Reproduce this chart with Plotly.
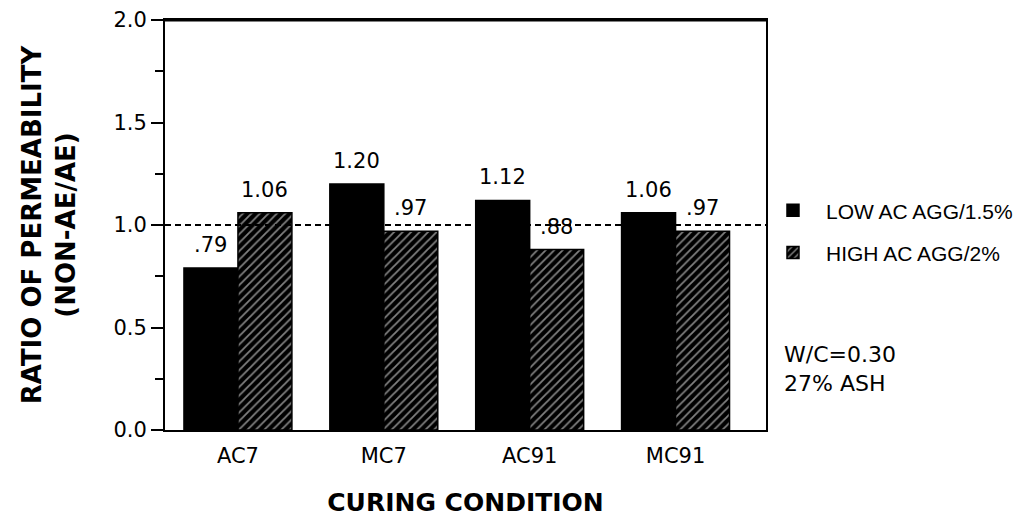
import plotly.graph_objects as go

categories = ["AC7", "MC7", "AC91", "MC91"]
low_ac = [0.79, 1.20, 1.12, 1.06]
high_ac = [1.06, 0.97, 0.88, 0.97]
low_labels = [".79", "1.20", "1.12", "1.06"]
high_labels = ["1.06", ".97", ".88", ".97"]
series_names = ["LOW AC AGG/1.5%", "HIGH AC AGG/2%"]
y_ticks = [0.0, 0.5, 1.0, 1.5, 2.0]
reference_level = 1.0

FONT = "DejaVu Sans"
BARGAP = 0.26
half = (1 - BARGAP) / 4

fig = go.Figure()
fig.add_trace(go.Bar(
    x=categories, y=low_ac, name=series_names[0], legendgroup="a",
    marker=dict(color="black", line=dict(color="black", width=1.5)),
))
fig.add_trace(go.Bar(
    x=categories, y=high_ac, name=series_names[1], legendgroup="b",
    marker=dict(color="black", line=dict(color="black", width=1.5),
                pattern=dict(shape="/", bgcolor="black", fgcolor="white",
                             size=6, solidity=0.3)),
))

annotations = []
for i, (v, t) in enumerate(zip(low_ac, low_labels)):
    annotations.append(dict(x=i - half, y=v, text=t, showarrow=False, xref="x", yref="y",
                            yanchor="bottom", yshift=9, font=dict(family=FONT, size=21, color="black")))
for i, (v, t) in enumerate(zip(high_ac, high_labels)):
    annotations.append(dict(x=i + half, y=v, text=t, showarrow=False, xref="x", yref="y",
                            yanchor="bottom", yshift=9, font=dict(family=FONT, size=21, color="black")))
annotations.append(dict(x=1.027, y=0.15, xref="paper", yref="paper", xanchor="left", yanchor="middle",
                        showarrow=False, align="left", text="W/C=0.30<br>27% ASH",
                        font=dict(family=FONT, size=22, color="black")))

fig.update_layout(
    width=1020, height=525,
    margin=dict(l=165, r=254, t=20, b=95, autoexpand=False),
    paper_bgcolor="white", plot_bgcolor="white",
    barmode="group", bargap=BARGAP, bargroupgap=0,
    font=dict(family=FONT, color="black"),
    showlegend=True,
    legend=dict(x=0.99, y=0.585, xanchor="left", yanchor="top", itemwidth=56,
                font=dict(family="Liberation Sans", size=21, color="black"),
                traceorder="grouped", tracegroupgap=12, bgcolor="rgba(0,0,0,0)"),
    annotations=annotations,
    shapes=[dict(type="line", xref="paper", yref="y", x0=0, x1=1, y0=reference_level, y1=reference_level,
                 line=dict(color="black", width=2, dash="6px,4px"), layer="above"),
            dict(type="line", xref="paper", yref="paper", x0=0, x1=1, y0=1, y1=1,
                 line=dict(color="black", width=3))],
)
fig.update_xaxes(
    type="category", range=[-0.5, 3.62],
    showline=True, mirror=True, linecolor="black", linewidth=2,
    ticks="outside", ticklen=6, tickcolor="rgba(0,0,0,0)",
    tickfont=dict(family=FONT, size=21, color="black"),
    title=dict(text="<b>CURING CONDITION</b>", font=dict(family=FONT, size=25, color="black"), standoff=26),
    showgrid=False, zeroline=False,
)
fig.update_yaxes(
    range=[0, 2.0], tickvals=y_ticks, tickformat=".1f",
    showline=True, mirror=True, linecolor="black", linewidth=2,
    ticks="outside", ticklen=12, tickwidth=2, tickcolor="black",
    minor=dict(dtick=0.25, ticks="outside", ticklen=8, tickwidth=2, tickcolor="black", showgrid=False),
    tickfont=dict(family=FONT, size=21, color="black"),
    title=dict(text="<b>RATIO OF PERMEABILITY<br>(NON-AE/AE)</b>", font=dict(family=FONT, size=26, color="black"), standoff=30),
    showgrid=False, zeroline=False,
)

fig.write_html("out.html")
